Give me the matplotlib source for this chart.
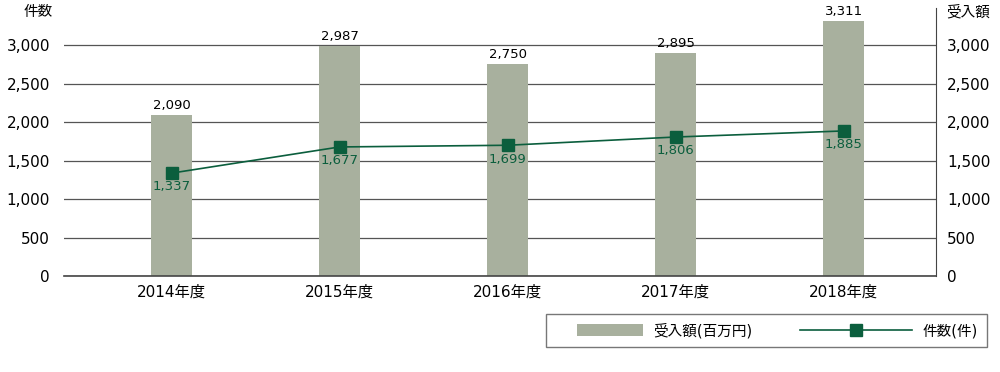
import numpy as np
import matplotlib.pyplot as plt
from matplotlib.patches import Patch, Rectangle
from matplotlib.lines import Line2D
from matplotlib.legend_handler import HandlerBase

plt.rcParams['font.family'] = ['DejaVu Sans', 'Noto Sans CJK JP']

years = ['2014年度', '2015年度', '2016年度', '2017年度', '2018年度']
amount = [2090, 2987, 2750, 2895, 3311]   # 受入額(百万円)
count = [1337, 1677, 1699, 1806, 1885]    # 件数(件)
ticks = [0, 500, 1000, 1500, 2000, 2500, 3000]

bar_c = '#a8b09e'
line_c = '#0b5e3d'


# legend handles: short patch on the right of its box, long line reaching left
class BarHandler(HandlerBase):
    def create_artists(self, legend, orig_handle, xdescent, ydescent,
                       width, height, fontsize, trans):
        w = width * 0.75
        r = Rectangle((-xdescent + width - w, -ydescent), w, height,
                      facecolor=bar_c, edgecolor='none', transform=trans)
        return [r]


class LineHandler(HandlerBase):
    def create_artists(self, legend, orig_handle, xdescent, ydescent,
                       width, height, fontsize, trans):
        x0 = -xdescent - width * 0.28
        x1 = width - xdescent
        y = height / 2 - ydescent
        ln = Line2D([x0, x1], [y, y], color=line_c, lw=1.2, transform=trans)
        mk = Line2D([(x0 + x1) / 2], [y], color=line_c, marker='s', ms=8,
                    ls='none', transform=trans)
        return [ln, mk]


fig = plt.figure(figsize=(10, 3.72), dpi=100)
ax = fig.add_axes([0.064, 0.258, 0.872, 0.72])
x = np.arange(len(years))

ax.bar(x, amount, width=0.24, color=bar_c, zorder=2)
ax.plot(x, count, color=line_c, lw=1.2, marker='s', ms=9, zorder=3)

for i in x:
    ax.text(i, amount[i] + 40, f'{amount[i]:,}', ha='center', va='bottom', fontsize=9.5)
    ax.text(i, count[i] - 95, f'{count[i]:,}', ha='center', va='top', fontsize=9.5, color=line_c)

ax.set_xlim(-0.64, 4.55)
ax.set_ylim(0, 3480)
ax.set_yticks(ticks)
ax.set_yticklabels([f'{t:,}' for t in ticks], fontsize=11)
ax.set_xticks(x)
ax.set_xticklabels(years, fontsize=11)
ax.grid(axis='y', color='#555555', lw=0.9, zorder=1)
ax.tick_params(length=0, pad=10)
ax.tick_params(axis='x', pad=6)

for s in ['top', 'left']:
    ax.spines[s].set_visible(False)
ax.spines['bottom'].set_color('#444444')
ax.spines['bottom'].set_linewidth(1.2)
ax.spines['right'].set_color('#444444')

ax2 = ax.twinx()
ax2.set_ylim(ax.get_ylim())
ax2.set_yticks(ticks)
ax2.set_yticklabels([f'{t:,}' for t in ticks], fontsize=11)
ax2.tick_params(length=0, pad=8)
for s in ['top', 'left', 'bottom', 'right']:
    ax2.spines[s].set_visible(False)

fig.text(0.038, 0.968, '件数', ha='center', va='center', fontsize=10.5)
fig.text(0.968, 0.968, '受入額', ha='center', va='center', fontsize=10.5)

h_bar = Patch(facecolor=bar_c)
h_line = Line2D([0], [0], color=line_c)
leg = fig.legend([h_bar, h_line], ['受入額(百万円)', '件数(件)'], ncol=2,
                 handler_map={h_bar: BarHandler(), h_line: LineHandler()},
                 loc='center', bbox_to_anchor=(0.7665, 0.1116),
                 fontsize=10.5, frameon=True, fancybox=False,
                 handlelength=6.0, handleheight=0.85, columnspacing=4.9,
                 handletextpad=0.75, borderpad=0.6, borderaxespad=0)
leg.get_frame().set_edgecolor('#555555')
leg.get_frame().set_linewidth(1.0)

fig.savefig('out.png', dpi=100)
